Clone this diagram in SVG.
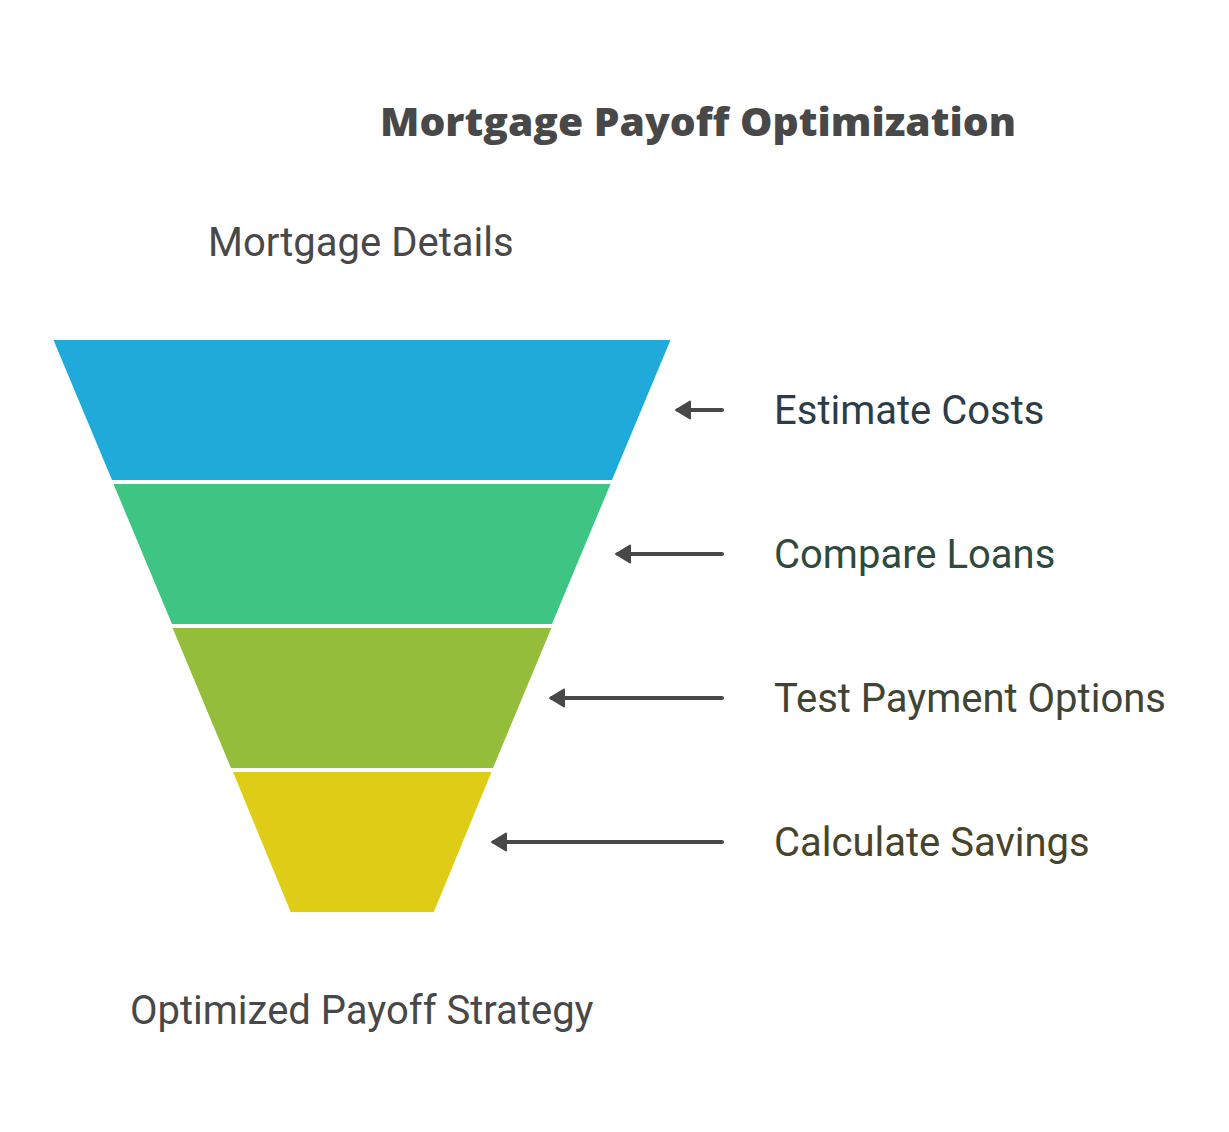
<svg xmlns="http://www.w3.org/2000/svg" width="1229" height="1132" viewBox="0 0 1229 1132">
  <defs>
    <style>
      .lbl { font-family: Roboto, "Liberation Sans", sans-serif; font-size: 40px; }
      .title { font-family: "Open Sans", "Liberation Sans", sans-serif; font-weight: 800; font-size: 38px; fill: #484848; }
      .conn { stroke: #484848; stroke-width: 4; stroke-linecap: round; fill: none; }
    </style>
    <marker id="ah" viewBox="0 0 20 20" refX="16" refY="10" markerWidth="20" markerHeight="20" markerUnits="userSpaceOnUse" orient="auto">
      <path d="M18,10 L4,1.5 L4,18.5 Z" fill="#484848" stroke="#484848" stroke-width="2" stroke-linejoin="round"/>
    </marker>
  </defs>
  <rect width="1229" height="1132" fill="#ffffff"/>

  <text id="title" class="title" x="380" y="136" textLength="636" lengthAdjust="spacingAndGlyphs">Mortgage Payoff Optimization</text>

  <g id="top-label">
    <text class="lbl" x="208" y="256" fill="#484848">Mortgage Details</text>
  </g>

  <g id="stage-1">
    <polygon points="53.5,340 670.5,340 612,480 112,480" fill="#1FAAD9"/>
  </g>
  <g id="stage-2">
    <polygon points="113.5,484 610.5,484 552,624 172,624" fill="#3EC584"/>
  </g>
  <g id="stage-3">
    <polygon points="172.6,628 551.4,628 493,768 231,768" fill="#93BD3B"/>
  </g>
  <g id="stage-4">
    <polygon points="233,772 491.5,772 433.8,912 290.7,912" fill="#DFCC17"/>
  </g>

  <g id="connectors">
    <line class="conn" x1="722" y1="410" x2="678" y2="410" marker-end="url(#ah)"/>
    <line class="conn" x1="722" y1="554" x2="618" y2="554" marker-end="url(#ah)"/>
    <line class="conn" x1="722" y1="698" x2="552" y2="698" marker-end="url(#ah)"/>
    <line class="conn" x1="722" y1="842" x2="494" y2="842" marker-end="url(#ah)"/>
  </g>

  <g id="label-1"><text class="lbl" x="774" y="424" fill="#2C3D48">Estimate Costs</text></g>
  <g id="label-2"><text class="lbl" x="774" y="568" fill="#2E4A3C">Compare Loans</text></g>
  <g id="label-3"><text class="lbl" x="774" y="712" fill="#3F4433">Test Payment Options</text></g>
  <g id="label-4"><text class="lbl" x="774" y="856" fill="#47442A">Calculate Savings</text></g>

  <g id="bottom-label">
    <text class="lbl" x="130" y="1024" fill="#484848">Optimized Payoff Strategy</text>
  </g>
</svg>
